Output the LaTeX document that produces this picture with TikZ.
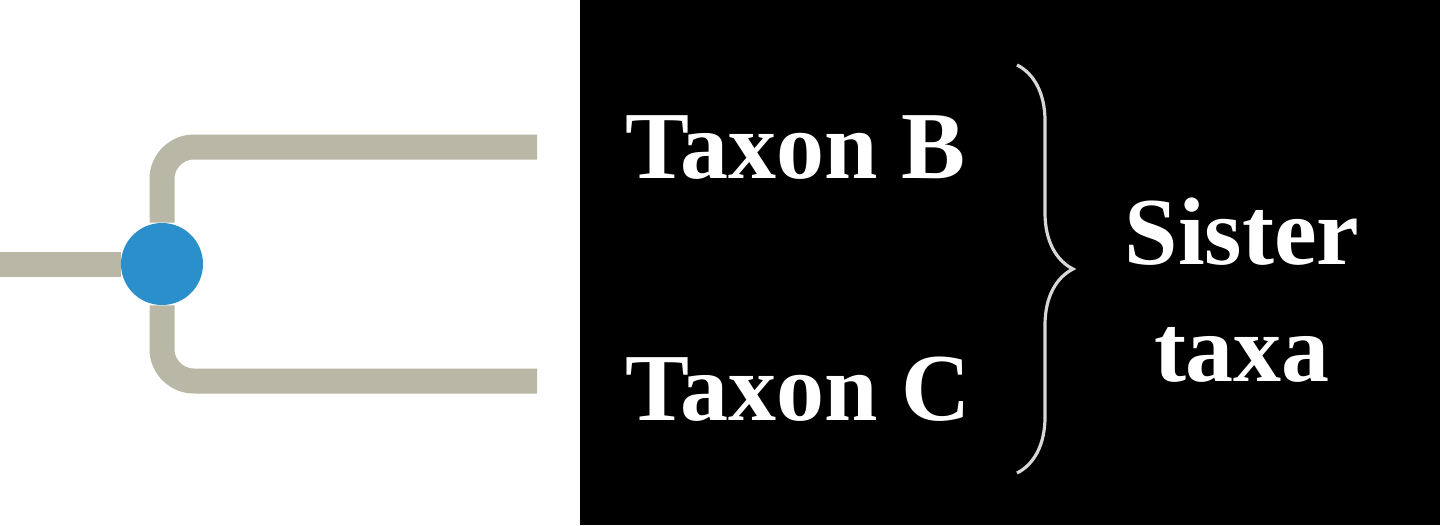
\documentclass[tikz,border=0pt]{standalone}
\usepackage{fontspec}
\setmainfont{Liberation Serif}
\usepackage{tikz}
\usetikzlibrary{positioning}
\usetikzlibrary{decorations.pathreplacing}
\definecolor{branchgray}{RGB}{185,184,166}
\definecolor{nodeblue}{RGB}{42,143,203}
\definecolor{bracegray}{RGB}{215,215,215}

\begin{document}
\begin{tikzpicture}[x=0.5pt,y=-0.5pt,
    branch/.style={draw=branchgray,line width=12.5pt,rounded corners=16pt},
    taxon/.style={text=white,font=\fontsize{48}{58.5}\selectfont\bfseries,inner sep=0pt}]
  \fill[white] (0,0) rectangle (1440,525);
  \fill[black] (580,0) rectangle (1440,525);
  \useasboundingbox (0,0) rectangle (1440,525);
  % tree
  \node[circle,fill=nodeblue,minimum size=41pt,inner sep=0pt] (split) at (162,264) {};
  \coordinate (root) at (0,264);
  \coordinate (tipB) at (537,147);
  \coordinate (tipC) at (537,381);
  \draw[branch] (root) -- (split);
  \draw[branch] (split) |- (tipB);
  \draw[branch] (split) |- (tipC);
  % labels
  \node[taxon,anchor=base west] (taxB) at (625,178) {Taxon B};
  \node[taxon,anchor=base west] (taxC) at (625,420) {Taxon C};
  \coordinate (braceTop) at (1017,65);
  \coordinate (braceBot) at (1017,473);
  \draw[bracegray,line width=1.6pt,decorate,decoration={brace,amplitude=28pt}]
    (braceTop) -- (braceBot);
  \node[taxon,align=center] (sister) at (1242,290) {Sister\\taxa};
\end{tikzpicture}
\end{document}
